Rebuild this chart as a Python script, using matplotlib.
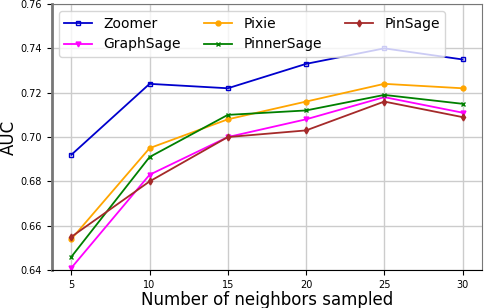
import matplotlib
matplotlib.use("Agg")
import matplotlib.pyplot as plt

neighbors = [5, 10, 15, 20, 25, 30]
zoomer = [0.692, 0.724, 0.722, 0.733, 0.740, 0.735]
pixie = [0.654, 0.695, 0.708, 0.716, 0.724, 0.722]
graphsage = [0.641, 0.683, 0.700, 0.708, 0.718, 0.711]
pinnersage = [0.646, 0.691, 0.710, 0.712, 0.719, 0.715]
pinsage = [0.655, 0.680, 0.700, 0.703, 0.716, 0.709]

fig = plt.figure(figsize=(4.84, 3.08), dpi=100)
ax = fig.add_axes([0.107, 0.123, 0.889, 0.864])

ax.plot(neighbors, zoomer, color="mediumblue", marker="s", ms=3.5, mfc="none", lw=1.3, label="Zoomer")
ax.plot(neighbors, graphsage, color="magenta", marker="v", ms=3.5, lw=1.3, label="GraphSage")
ax.plot(neighbors, pixie, color="orange", marker="o", ms=3.5, lw=1.3, label="Pixie")
ax.plot(neighbors, pinnersage, color="green", marker="x", ms=3.5, lw=1.3, label="PinnerSage")
ax.plot(neighbors, pinsage, color="brown", marker="d", ms=3.5, lw=1.3, label="PinSage")

ax.set_ylim(0.64, 0.76)
ax.set_xticks(neighbors)
ax.set_yticks([0.64, 0.66, 0.68, 0.70, 0.72, 0.74, 0.76])
ax.tick_params(labelsize=7)
ax.grid(True, color="#cccccc", lw=1)
ax.set_axisbelow(True)
ax.spines["left"].set_color("#777777")
ax.spines["left"].set_linewidth(2)
ax.spines["top"].set_color("#777777")
ax.spines["right"].set_color("#777777")
ax.set_xlabel("Number of neighbors sampled", fontsize=12, labelpad=1)
ax.set_ylabel("AUC", fontsize=12, labelpad=2)
ax.legend(ncol=3, loc="upper left", fontsize=10, columnspacing=1.7)

fig.savefig("out.png", dpi=100)
